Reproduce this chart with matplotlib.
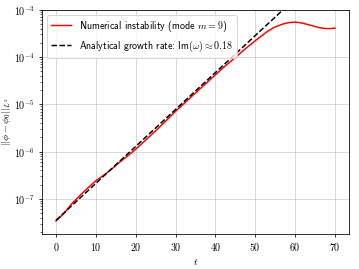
import numpy as np
import matplotlib
matplotlib.use('Agg')
import matplotlib.pyplot as plt

# Curva numerica (modo m = 9)
t_num = [0, 2, 4, 6, 8, 10, 12, 14, 16, 18, 20, 23, 26, 30, 34, 38, 42, 45,
         48, 51, 53, 55, 57, 58, 59, 60, 61, 62, 63, 64, 65, 66, 67, 68, 69, 70]
norma_num = [3.39e-8, 4.9e-8, 7.9e-8, 1.17e-7, 1.70e-7, 2.40e-7, 3.16e-7, 4.27e-7,
             6.0e-7, 8.1e-7, 1.12e-6, 1.91e-6, 3.3e-6, 7.1e-6, 1.45e-5, 2.95e-5,
             6.0e-5, 9.8e-5, 1.62e-4, 2.57e-4, 3.45e-4, 4.35e-4, 5.0e-4, 5.25e-4,
             5.4e-4, 5.45e-4, 5.35e-4, 5.15e-4, 4.9e-4, 4.65e-4, 4.4e-4, 4.2e-4,
             4.05e-4, 3.98e-4, 4.0e-4, 4.07e-4]

# Reta analitica (crescimento exponencial, Im(omega) ~ 0.18)
t_ana = [0, 70]
norma_ana = [3.5e-8, 1.04e-2]

plt.rcParams['mathtext.fontset'] = 'cm'
plt.rcParams['font.family'] = 'serif'
plt.rcParams['font.serif'] = ['cmr10']
plt.rcParams['axes.formatter.use_mathtext'] = True
plt.rcParams['axes.unicode_minus'] = False

fig, ax = plt.subplots(figsize=(5, 3.75))
fig.subplots_adjust(left=0.117, right=0.972, bottom=0.130, top=0.963)

ax.semilogy(t_num, norma_num, color='red', linewidth=1.5,
            label=r'Numerical instability (mode $m = 9$)')
ax.semilogy(t_ana, norma_ana, color='black', linestyle='--', linewidth=1.5,
            label=r'Analytical growth rate: Im$(\omega) \approx 0.18$')

ax.set_xlim(-3.5, 73.5)
ax.set_ylim(1.8e-8, 1e-3)
ax.set_xticks([0, 10, 20, 30, 40, 50, 60, 70])
ax.set_xticklabels([f'${v}$' for v in [0, 10, 20, 30, 40, 50, 60, 70]])
ax.set_xlabel(r'$t$')
ax.set_ylabel(r'$||\phi - \phi_0||_{L^2}$', labelpad=1)
ax.grid(True, which='major', color='#b0b0b0', alpha=0.6)
ax.legend(loc='upper left', prop={'family': 'cmss10'})

plt.savefig('out.png', dpi=71.8)
